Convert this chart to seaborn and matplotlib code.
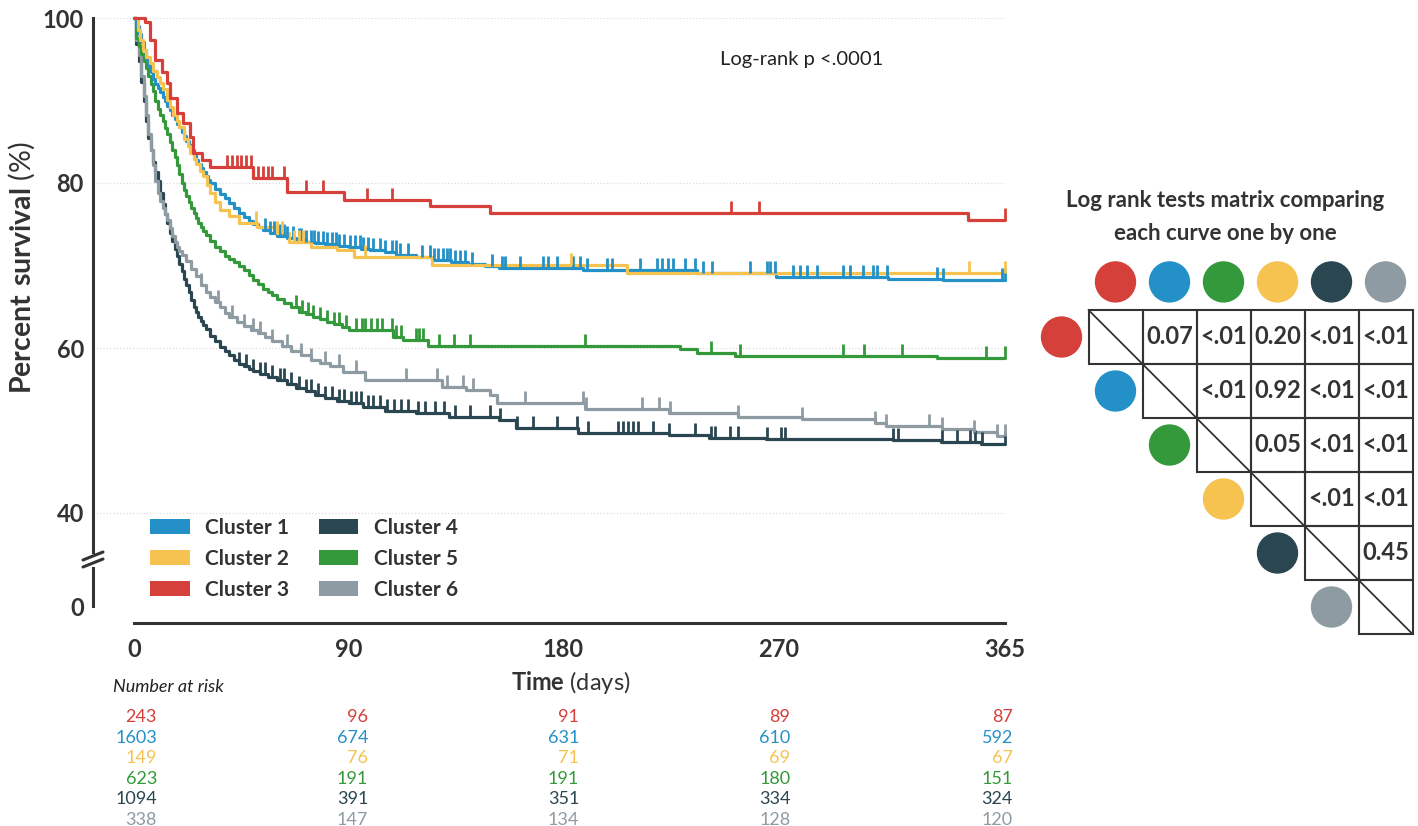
import numpy as np
import pandas as pd
import matplotlib.pyplot as plt
import seaborn as sns
from matplotlib.colors import ListedColormap
from matplotlib.patches import Patch, Circle, Rectangle
from matplotlib.lines import Line2D

sns.set_theme(style='white')
plt.rcParams['font.family'] = ['Lato', 'DejaVu Sans']
plt.rcParams['mathtext.fontset'] = 'custom'
plt.rcParams['mathtext.bf'] = 'Lato:bold'
plt.rcParams['mathtext.rm'] = 'Lato'

INK = '#333333'

# colores de cada cluster
colors = {
    'Cluster 1': '#2391c8',
    'Cluster 2': '#f6c350',
    'Cluster 3': '#d6403a',
    'Cluster 4': '#2a4650',
    'Cluster 5': '#33993a',
    'Cluster 6': '#8e9ba2',
}

# curvas Kaplan-Meier: tiempo en dias, % supervivencia
t1 = [0, 1, 2, 3, 4, 5, 6, 7, 8, 9, 10, 11, 12, 13, 14, 15, 16, 17, 18, 19, 20, 21, 22, 23,
      24, 25, 26, 27, 28, 29, 30, 31, 32, 34, 36, 38, 40, 42, 44, 46, 48, 50, 52, 54, 57, 60,
      64, 68, 72, 76, 80, 85, 90, 95, 99, 105, 110, 118, 125, 133, 140, 147, 153, 188, 236,
      269, 316, 339, 365]
s1 = [100, 99.0, 98.1, 97.1, 96.1, 95.0, 94.2, 93.4, 92.6, 92.0, 91.5, 91.0, 90.4, 89.9, 89.3,
      88.8, 88.2, 87.7, 87.2, 86.8, 86.2, 85.7, 85.1, 84.6, 84.0, 83.4, 82.8, 82.3, 81.8, 81.3,
      80.9, 80.4, 80.0, 79.3, 78.7, 78.2, 77.6, 77.0, 76.4, 75.9, 75.4, 75.0, 74.7, 74.3, 73.9,
      73.6, 73.3, 73.1, 72.9, 72.7, 72.6, 72.4, 72.2, 72.0, 71.9, 71.6, 71.3, 71.0, 70.7, 70.4,
      70.2, 69.9, 69.7, 69.4, 69.1, 68.6, 68.4, 68.2, 68.2]
c1 = [55, 57, 58.5, 61, 63, 64, 66.5, 69, 70, 72, 74, 75.5, 77, 79, 81, 83, 84.5, 86, 88,
      90.5, 92.6, 94.7, 96, 98.1, 100.2, 103.1, 105.2, 108.1, 109.8, 111.5, 114.8, 120.7, 124.1,
      125.7, 127.4, 129.5, 131.2, 132.4, 134.6, 136.7, 138.8, 141.7, 150, 154.2, 155.5, 161.8,
      171.4, 173.5, 177.3, 184, 186.9, 189.9, 198.2, 200.3, 212.1, 219.2, 221.3, 223.8, 225.9,
      231, 235.1, 238.5, 242.2, 258.2, 265.3, 266.6, 268.6, 276.2, 279.1, 282.1, 286.2, 297.1,
      300.1, 305.5, 309.7, 311.4, 315.6, 336.5, 339, 363.8, 365]

t2 = [0, 1.5, 2.5, 3.8, 5, 6.5, 8, 9.6, 11, 12, 13.8, 15, 16.5, 18, 19, 21, 22.5, 23.5, 25,
      26, 27.5, 29, 30.5, 32, 34, 36, 40, 44, 51.5, 60, 65, 74, 85, 92, 125, 206.6, 365]
s2 = [100, 98.5, 97.3, 96.1, 95.3, 94.5, 93.6, 92.8, 92.1, 91.4, 90.1, 89.2, 88.2, 87.5, 86.8,
      85.3, 84.5, 83.6, 82.9, 82.3, 81.5, 80.8, 79.8, 78.8, 77.7, 76.7, 76.0, 75.2, 74.7, 73.9,
      72.9, 72.3, 71.9, 71.0, 70.1, 69.1, 69.1]
c2 = [51, 60, 62, 67, 69, 71, 97, 183, 350, 365]

t3 = [0, 1.3, 4.6, 6.7, 8.8, 11.7, 13.8, 15, 18, 20.5, 23.5, 24.7, 28.5, 31.8, 50, 64, 88,
      124, 149, 349.5, 365]
s3 = [100, 100, 99.5, 97.3, 94.9, 93.5, 92.1, 90.3, 88.5, 87.3, 85.6, 83.6, 82.8, 81.9, 80.6,
      78.9, 78.0, 77.2, 76.4, 75.5, 75.5]
c3 = [39, 41, 43, 45, 47, 49, 52, 54, 56, 58, 63, 72, 79, 97.6, 108, 250, 262, 365]

t4 = [0, 1, 2, 3, 4, 5, 6, 7, 8, 9, 10, 11, 12, 13, 14, 15, 16, 17, 18, 19, 20, 21, 22, 23,
      24, 25, 26, 27, 28, 29, 30, 32, 34, 36, 38, 40, 42, 44, 46, 48, 50, 53, 56, 60, 64, 68,
      72, 76, 80, 85, 90, 96, 105, 118, 132, 153, 160, 186, 224, 241, 265, 318, 338, 355, 365]
s4 = [100, 96.8, 94.8, 92.3, 90.0, 87.5, 85.5, 84.0, 82.6, 81.3, 80.2, 78.8, 77.5, 76.3, 75.1,
      74.0, 73.0, 72.0, 71.1, 70.2, 69.3, 68.4, 67.6, 66.8, 65.8, 65.0, 64.4, 63.8, 63.3, 62.8,
      62.3, 61.5, 60.8, 60.1, 59.6, 59.1, 58.6, 58.1, 57.8, 57.5, 57.2, 56.8, 56.5, 56.1, 55.6,
      55.2, 54.8, 54.3, 53.9, 53.6, 53.3, 52.8, 52.4, 52.1, 51.6, 51.3, 50.3, 49.7, 49.5, 49.1,
      49.0, 48.8, 48.6, 48.4, 48.4]
c4 = [44, 47, 50, 53, 55, 58, 61, 63, 66, 69, 72, 74, 77, 80, 83, 86, 88, 91, 93, 95, 98, 100,
      103, 106, 109, 112, 115, 119, 122, 126, 130, 134.5, 141, 149, 153.4, 160.5, 167.2, 177.3,
      185.7, 190.3, 203, 205, 207, 209, 211, 217.5, 224.2, 235.1, 242, 243.5, 249.8, 253.2,
      265.3, 271, 273, 318, 320, 338.7, 345, 350.4, 352.5, 355.4, 365]

t5 = [0, 1, 2, 3, 4, 5, 6, 7, 8, 9, 10, 11, 12, 13, 14, 15, 16, 17, 18, 19, 20, 21, 22, 23,
      24, 25, 26, 27, 28, 29, 30, 32, 34, 36, 38, 40, 42, 44, 46, 48, 50, 52, 54, 56, 58, 60,
      63, 66, 69, 72, 75, 78, 81, 84, 87, 90, 108.5, 112.7, 123, 229, 236, 252, 336.5, 365]
s5 = [100, 97.6, 96.6, 95.6, 94.8, 93.9, 93.0, 92.0, 91.1, 90.0, 89.0, 88.2, 87.5, 86.7, 85.9,
      85.0, 84.0, 83.1, 82.2, 81.1, 80.0, 79.2, 78.4, 77.7, 77.0, 76.4, 75.8, 75.2, 74.7, 74.2,
      73.7, 73.0, 72.2, 71.8, 71.2, 70.8, 70.4, 69.9, 69.4, 68.8, 68.2, 67.7, 67.2, 66.8, 66.4,
      66.0, 65.5, 65.0, 64.4, 64.1, 63.8, 63.5, 63.2, 62.9, 62.6, 62.2, 61.3, 61.0, 60.2, 59.9,
      59.4, 59.0, 58.8, 58.8]
c5 = [68, 70.5, 73, 75, 78, 81, 84, 86, 89, 93, 95.5, 97, 99.5, 102, 104, 108, 110, 112, 118,
      119.5, 121, 128, 134, 141, 189, 242, 254, 297, 306, 322, 357, 365]

t6 = [0, 1, 2, 3, 4, 5, 6, 7, 8, 9, 10, 11, 12, 13, 14, 15, 16, 17, 18, 19, 20, 22, 24, 26,
      28, 30, 32, 34, 36, 38, 40, 43, 46, 49, 52, 55, 58, 62, 66, 70, 74, 78, 82, 87.6, 97, 129,
      139, 149, 152, 189, 224, 253, 280, 310.5, 315, 338.5, 352, 361.5, 365]
s6 = [100, 97.3, 95.5, 93.0, 90.5, 88.3, 86.0, 84.0, 82.2, 80.3, 78.8, 77.8, 77.0, 76.3, 75.5,
      74.5, 73.6, 72.9, 72.3, 71.8, 71.3, 70.6, 69.6, 68.7, 67.6, 66.8, 66.2, 65.6, 65.0, 64.3,
      63.8, 63.2, 62.7, 62.2, 61.8, 61.3, 60.8, 60.2, 59.6, 59.1, 58.6, 58.2, 57.8, 57.1, 56.1,
      55.3, 54.9, 54.3, 53.3, 52.6, 52.1, 51.6, 51.4, 50.9, 50.5, 50.2, 49.8, 49.3, 49.3]
c6 = [28, 35, 41, 46, 50, 53, 58, 64, 70, 74, 80, 86, 93, 114, 127, 131, 138, 142, 164, 188,
      189.5, 213, 220, 224.5, 253, 280, 310.5, 315, 333, 338.5, 352, 361.5, 365]

curves = {
    'Cluster 1': (t1, s1, c1), 'Cluster 2': (t2, s2, c2), 'Cluster 3': (t3, s3, c3),
    'Cluster 4': (t4, s4, c4), 'Cluster 5': (t5, s5, c5), 'Cluster 6': (t6, s6, c6),
}
draw_order = ['Cluster 4', 'Cluster 6', 'Cluster 5', 'Cluster 1', 'Cluster 2', 'Cluster 3']

# numero en riesgo
risk_times = [0, 90, 180, 270, 365]
risk_order = ['Cluster 3', 'Cluster 1', 'Cluster 2', 'Cluster 5', 'Cluster 4', 'Cluster 6']
risk = {
    'Cluster 3': [243, 96, 91, 89, 87],
    'Cluster 1': [1603, 674, 631, 610, 592],
    'Cluster 2': [149, 76, 71, 69, 67],
    'Cluster 5': [623, 191, 191, 180, 151],
    'Cluster 4': [1094, 391, 351, 334, 324],
    'Cluster 6': [338, 147, 134, 128, 120],
}

# matriz log-rank
mat_order = ['Cluster 3', 'Cluster 1', 'Cluster 5', 'Cluster 2', 'Cluster 4', 'Cluster 6']
pvals = [
    ['', '0.07', '<.01', '0.20', '<.01', '<.01'],
    ['', '', '<.01', '0.92', '<.01', '<.01'],
    ['', '', '', '0.05', '<.01', '<.01'],
    ['', '', '', '', '<.01', '<.01'],
    ['', '', '', '', '', '0.45'],
    ['', '', '', '', '', ''],
]

W, H = 1418, 826
fig = plt.figure(figsize=(W / 100, H / 100), dpi=100)


def fx(px):
    return px / W


def fy(py):
    return 1 - py / H


xpp = 871 / 365   # px por dia
ypp = 165 / 20    # px por punto %

ax = fig.add_axes([fx(93), fy(552), fx(1005) - fx(93), fy(18) - fy(552)])
axb = fig.add_axes([fx(93), fy(623), fx(1005) - fx(93), fy(568) - fy(623)])

rows = []
for name, (t, s, c) in curves.items():
    for ti, si in zip(t, s):
        rows.append({'time': ti, 'surv': si, 'cluster': name})
df = pd.DataFrame(rows)

sns.lineplot(data=df, x='time', y='surv', hue='cluster', hue_order=draw_order,
             palette=colors, estimator=None, drawstyle='steps-post', linewidth=2.3,
             legend=False, ax=ax, clip_on=False)

# marcas de censura
for name in draw_order:
    t, s, c = curves[name]
    idx = np.searchsorted(t, c, side='right') - 1
    idx = np.clip(idx, 0, len(s) - 1)
    ax.plot(c, np.array(s)[idx], ls='none', marker=2, ms=8.5, mew=2,
            color=colors[name], clip_on=False)

xmin = -(134 - 93) / xpp
ax.set_xlim(xmin, 365)
ax.set_ylim(100 - (552 - 18) / ypp, 100)
axb.set_xlim(xmin, 365)
axb.set_ylim(-(623 - 606) / ypp, (606 - 568) / ypp)

for a in (ax, axb):
    a.set_facecolor('none')
    for sp in ('top', 'right'):
        a.spines[sp].set_visible(False)
    for sp in ('left', 'bottom'):
        a.spines[sp].set_color(INK)
        a.spines[sp].set_linewidth(2.2)
    a.tick_params(axis='both', length=4.5, width=2.2, color=INK, labelcolor=INK,
                  labelsize=17, direction='out')
    a.set_xlabel('')
    a.set_ylabel('')

ax.spines['bottom'].set_visible(False)
ax.set_xticks([])
ax.set_yticks([40, 60, 80, 100])
ax.spines['left'].set_bounds(ax.get_ylim()[0], 100)
ax.grid(axis='y', color='#dddddd', ls=':', lw=0.9)
ax.tick_params(axis='y', pad=2)

axb.set_yticks([0])
axb.spines['left'].set_bounds(0, axb.get_ylim()[1])
axb.spines['bottom'].set_bounds(0, 365)
axb.set_xticks(risk_times)
axb.tick_params(axis='x', pad=6)
axb.tick_params(axis='y', pad=2)
for lab in ax.get_yticklabels() + axb.get_yticklabels() + axb.get_xticklabels():
    lab.set_fontweight('bold')

# marcas del corte del eje
for y0 in (560, 567):
    fig.add_artist(Line2D([fx(83), fx(103)], [fy(y0), fy(y0 - 8)], color=INK, lw=2.2))

fig.text(fx(22), fy(268), r'$\mathbf{Percent\ survival}$ (%)', rotation=90,
         ha='center', va='center', fontsize=20.5, color=INK)
fig.text(fx(571), fy(683), r'$\mathbf{Time}$ (days)', ha='center', va='center',
         fontsize=17, color=INK)
fig.text(fx(720), fy(60), 'Log-rank p <.0001', ha='left', va='center', fontsize=14.5,
         color='#222222')

handles = [Patch(facecolor=colors[n], edgecolor='none') for n in curves]
fig.legend(handles, list(curves), ncol=2, loc='upper left',
           bbox_to_anchor=(fx(150), fy(517.5)), frameon=False, borderaxespad=0, borderpad=0,
           handlelength=1.9, handleheight=0.7, handletextpad=0.75, columnspacing=1.4,
           labelspacing=0.53, prop={'weight': 'bold', 'size': 15}, labelcolor=INK)

# tabla de numero en riesgo
axr = fig.add_axes([fx(157), fy(830.3), fx(1013) - fx(157), (830.3 - 706.7) / H])
axr.set_xlim(0, 365)
axr.set_ylim(5.5, -0.5)
axr.axis('off')
for r, name in enumerate(risk_order):
    for tx, n in zip(risk_times, risk[name]):
        axr.text(tx, r, str(n), ha='right', va='center', fontsize=13, color=colors[name])
fig.text(fx(113), fy(687), 'Number at risk', ha='left', va='center', fontsize=13,
         style='italic', color='#222222')

# matriz de tests log-rank
axm = fig.add_axes([fx(1088), fy(634), fx(1413) - fx(1088), (634 - 310) / H])
mask = np.tril(np.ones((6, 6), dtype=bool), k=-1)
sns.heatmap(np.zeros((6, 6)), mask=mask, cmap=ListedColormap(['white']), cbar=False,
            annot=np.array(pvals), fmt='', linewidths=0, square=True,
            xticklabels=False, yticklabels=False, ax=axm,
            annot_kws={'fontsize': 17, 'fontweight': 'bold', 'color': INK})
for i in range(6):
    for j in range(i, 6):
        axm.add_patch(Rectangle((j, i), 1, 1, fill=False, edgecolor=INK, lw=1.5,
                                clip_on=False))
axm.plot([0, 6], [0, 6], color=INK, lw=1.3, clip_on=False)
for j, name in enumerate(mat_order):
    axm.add_patch(Circle((j + 0.5, -0.52), 0.37, color=colors[name], clip_on=False))
    axm.add_patch(Circle((j - 0.5, j + 0.5), 0.37, color=colors[name], clip_on=False))

fig.text(fx(1225), fy(217), 'Log rank tests matrix comparing\neach curve one by one',
         ha='center', va='center', fontsize=16, fontweight='bold', color=INK,
         linespacing=1.65)

fig.savefig('out.png', dpi=100)
